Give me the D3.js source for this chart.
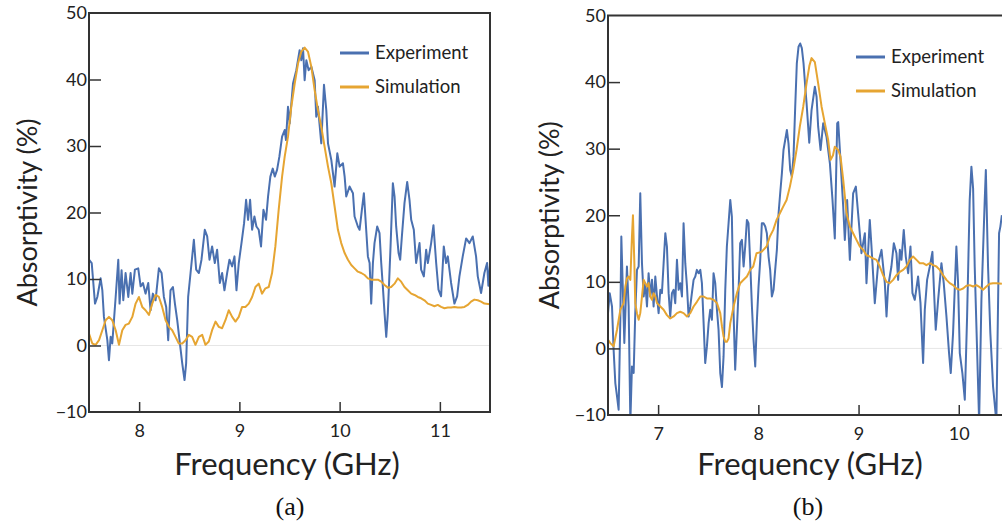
<!DOCTYPE html>
<html>
<head>
<meta charset="utf-8">
<script src="https://cdn.jsdelivr.net/npm/d3@7"></script>
<style>
  body { margin: 0; background: #fff; }
  svg { display: block; overflow: hidden; }
  .tick text { font-family: Lato, "Open Sans", sans-serif; fill: #222; }
</style>
</head>
<body>
<div id="chart"></div>
<script>
// ---- data: [frequency GHz, absorptivity %] ----
const expA = [
  [7.50,12.9],[7.527,12.4],[7.56,6.3],[7.583,7.3],[7.616,10.1],[7.633,8.3],[7.649,4.3],[7.683,0.8],
  [7.699,-2.2],[7.716,1.3],[7.732,0.3],[7.749,3.8],[7.766,7.3],[7.792,12.9],[7.805,6.3],[7.825,11.3],
  [7.842,6.8],[7.865,10.9],[7.892,7.3],[7.915,10.9],[7.932,7.8],[7.958,11.4],[7.991,11.6],[8.015,8.9],
  [8.038,9.4],[8.064,7.8],[8.091,9.4],[8.114,5.3],[8.137,7.8],[8.164,6.8],[8.197,11.6],[8.224,10.9],
  [8.247,7.3],[8.27,5.8],[8.29,0.8],[8.313,8.3],[8.337,8.8],[8.357,6.3],[8.38,3.8],[8.403,0.8],
  [8.43,-2.7],[8.453,-5.2],[8.469,-2.7],[8.489,7.3],[8.513,10.9],[8.546,15.9],[8.569,11.4],[8.596,10.9],
  [8.622,12.9],[8.655,17.4],[8.679,16.4],[8.702,12.9],[8.728,14.9],[8.755,12.4],[8.778,14.4],[8.805,9.4],
  [8.828,10.9],[8.851,8.3],[8.878,10.9],[8.901,12.9],[8.928,11.9],[8.951,13.4],[8.971,8.3],[8.994,12.4],
  [9.021,15.4],[9.047,18.4],[9.067,21.9],[9.087,18.9],[9.107,21.9],[9.127,17.4],[9.15,19.4],[9.17,17.9],
  [9.193,17.4],[9.216,14.9],[9.24,20.4],[9.266,18.9],[9.286,22.4],[9.309,25.4],[9.333,26.6],[9.353,25.4],
  [9.376,26.4],[9.399,28.4],[9.426,31.4],[9.452,32.4],[9.465,30.9],[9.485,35.9],[9.502,33.4],[9.535,39.4],
  [9.568,41.4],[9.601,44.4],[9.618,42.9],[9.635,44.7],[9.651,39.9],[9.668,42.9],[9.691,41.4],[9.718,41.9],
  [9.751,39.9],[9.767,34.4],[9.784,35.9],[9.817,30.4],[9.844,39.2],[9.867,35.4],[9.884,30.4],[9.917,27.9],
  [9.95,23.9],[9.977,28.9],[10.0,26.9],[10.033,27.4],[10.05,25.4],[10.066,22.4],[10.099,23.9],[10.133,22.9],
  [10.149,19.4],[10.182,17.9],[10.199,17.4],[10.222,20.4],[10.242,22.9],[10.265,17.4],[10.282,13.4],[10.299,12.4],
  [10.315,6.3],[10.332,12.4],[10.348,15.4],[10.375,17.9],[10.398,16.9],[10.415,12.4],[10.431,8.9],[10.448,4.9],
  [10.465,1.3],[10.481,4.9],[10.508,14.9],[10.531,24.4],[10.548,22.4],[10.564,17.9],[10.588,13.9],[10.604,12.9],
  [10.621,16.4],[10.647,21.4],[10.674,24.6],[10.697,21.9],[10.714,18.9],[10.74,17.4],[10.763,12.4],[10.797,15.4],
  [10.813,11.4],[10.84,10.4],[10.863,14.4],[10.88,12.4],[10.913,15.4],[10.936,18.1],[10.963,12.4],[10.986,8.4],
  [11.012,7.4],[11.039,14.9],[11.062,12.4],[11.079,13.4],[11.112,9.4],[11.145,6.3],[11.172,7.4],[11.195,10.4],
  [11.228,13.4],[11.262,16.1],[11.295,15.4],[11.328,16.4],[11.361,13.4],[11.378,10.4],[11.411,7.9],[11.444,10.9],
  [11.471,12.4],[11.484,9.0],[11.5,12.0]
];
const simA = [
  [7.50,1.8],[7.533,0.3],[7.566,0.1],[7.60,0.8],[7.633,2.3],[7.666,3.8],[7.699,4.3],[7.732,3.8],
  [7.766,2.3],[7.799,0.1],[7.832,2.3],[7.865,3.1],[7.898,3.3],[7.932,4.3],[7.965,6.3],[7.998,7.3],
  [8.031,5.8],[8.064,5.3],[8.098,4.6],[8.131,6.3],[8.164,7.6],[8.197,7.3],[8.23,5.8],[8.264,3.8],
  [8.297,2.8],[8.33,2.3],[8.363,1.3],[8.396,0.3],[8.43,0.3],[8.463,0.8],[8.496,1.6],[8.529,1.3],
  [8.562,0.1],[8.596,1.3],[8.629,1.6],[8.662,0.1],[8.695,0.6],[8.728,2.3],[8.762,3.6],[8.795,2.8],
  [8.828,2.6],[8.861,3.8],[8.894,5.3],[8.928,4.3],[8.961,3.6],[8.994,4.3],[9.027,5.8],[9.06,5.8],
  [9.094,6.3],[9.127,7.3],[9.16,8.8],[9.193,9.3],[9.226,7.8],[9.26,8.6],[9.293,8.8],[9.326,10.9],
  [9.359,14.9],[9.392,20.4],[9.426,25.4],[9.452,28.4],[9.485,31.4],[9.518,35.9],[9.552,39.4],[9.585,42.4],
  [9.618,44.2],[9.651,44.8],[9.684,44.2],[9.718,41.9],[9.751,38.4],[9.784,35.4],[9.817,32.9],[9.85,29.9],
  [9.884,26.9],[9.917,24.4],[9.95,20.9],[9.983,17.4],[10.016,15.4],[10.05,13.9],[10.083,12.9],[10.116,12.1],
  [10.149,11.6],[10.182,11.1],[10.216,10.9],[10.249,10.6],[10.282,10.1],[10.315,9.9],[10.348,9.9],[10.382,9.9],
  [10.415,9.6],[10.448,9.1],[10.481,8.7],[10.514,8.8],[10.548,9.3],[10.581,10.1],[10.614,9.6],[10.647,8.8],
  [10.68,8.3],[10.714,7.8],[10.747,7.6],[10.78,7.3],[10.813,7.1],[10.846,6.8],[10.88,6.3],[10.913,6.1],
  [10.946,5.9],[10.979,6.1],[11.012,5.8],[11.046,5.6],[11.079,5.7],[11.112,5.7],[11.145,5.8],[11.178,5.7],
  [11.212,5.7],[11.245,5.8],[11.278,6.1],[11.311,6.6],[11.344,6.9],[11.378,6.8],[11.411,6.6],[11.444,6.3],
  [11.5,6.2]
];
const expB = [
  [6.50,5.3],[6.517,8.3],[6.54,6.3],[6.556,-0.2],[6.573,-5.2],[6.59,-7.2],[6.606,-9.2],[6.623,4.3],
  [6.633,16.8],[6.65,7.8],[6.663,0.8],[6.673,5.3],[6.689,12.3],[6.706,6.3],[6.723,-11.0],[6.739,-2.7],
  [6.756,-3.7],[6.772,5.3],[6.789,11.8],[6.806,12.3],[6.822,23.3],[6.839,12.8],[6.856,7.8],[6.872,9.8],
  [6.889,6.3],[6.905,11.3],[6.922,7.8],[6.939,10.3],[6.955,6.3],[6.972,10.8],[6.989,7.8],[7.005,5.3],
  [7.022,8.8],[7.038,8.3],[7.055,12.8],[7.072,17.3],[7.088,15.3],[7.105,8.3],[7.121,4.8],[7.138,8.3],
  [7.155,8.8],[7.171,6.8],[7.188,13.3],[7.205,8.8],[7.221,9.8],[7.238,7.8],[7.254,18.8],[7.271,12.8],
  [7.288,9.3],[7.304,4.8],[7.321,6.3],[7.337,8.3],[7.354,10.3],[7.371,10.8],[7.387,11.8],[7.404,11.3],
  [7.421,11.8],[7.437,9.8],[7.454,3.8],[7.47,-2.2],[7.487,0.3],[7.504,3.8],[7.52,5.8],[7.537,4.3],
  [7.553,11.3],[7.57,9.8],[7.587,5.8],[7.603,2.8],[7.62,-3.7],[7.637,-5.8],[7.653,-1.2],[7.67,8.8],
  [7.686,15.3],[7.703,18.8],[7.72,22.3],[7.736,19.8],[7.753,5.3],[7.769,-3.2],[7.786,2.8],[7.803,8.8],
  [7.819,15.8],[7.836,16.3],[7.853,12.3],[7.869,15.3],[7.886,19.3],[7.902,18.8],[7.919,12.8],[7.936,6.3],
  [7.952,1.3],[7.969,-2.7],[7.986,4.3],[8.002,9.3],[8.019,13.3],[8.035,18.8],[8.052,18.8],[8.069,18.3],
  [8.085,17.3],[8.102,13.8],[8.118,11.8],[8.135,7.8],[8.152,8.8],[8.168,11.8],[8.185,14.8],[8.202,20.3],
  [8.218,23.3],[8.235,26.3],[8.251,29.8],[8.268,31.3],[8.285,32.8],[8.301,30.8],[8.318,26.8],[8.334,25.8],
  [8.351,28.8],[8.368,36.3],[8.384,42.8],[8.401,45.3],[8.418,45.8],[8.434,45.1],[8.451,42.8],[8.468,39.3],
  [8.481,36.9],[8.508,30.9],[8.531,35.8],[8.564,39.3],[8.581,37.8],[8.597,33.3],[8.621,29.8],[8.647,33.8],
  [8.68,31.8],[8.714,27.8],[8.74,22.3],[8.763,16.5],[8.787,33.8],[8.797,34.0],[8.847,21.3],[8.863,16.3],
  [8.886,22.3],[8.913,13.3],[8.946,23.3],[8.973,24.3],[9.029,14.3],[9.063,17.3],[9.079,9.8],[9.112,19.3],
  [9.129,15.3],[9.162,6.8],[9.196,12.8],[9.229,14.8],[9.262,9.8],[9.279,4.8],[9.295,9.3],[9.328,12.3],
  [9.352,15.8],[9.378,14.3],[9.395,10.3],[9.412,14.8],[9.428,13.3],[9.451,17.8],[9.471,13.8],[9.495,11.3],
  [9.518,15.3],[9.538,8.3],[9.561,7.3],[9.594,10.8],[9.618,6.8],[9.644,-2.2],[9.661,5.8],[9.684,10.3],
  [9.711,12.3],[9.737,14.5],[9.751,9.3],[9.77,2.8],[9.794,7.3],[9.827,12.8],[9.85,9.8],[9.877,4.8],
  [9.903,-0.7],[9.92,-3.7],[9.943,2.3],[9.976,15.3],[9.993,9.8],[10.01,-0.7],[10.036,-3.7],[10.06,-7.7],
  [10.083,4.8],[10.109,22.3],[10.126,27.3],[10.143,24.0],[10.159,12.3],[10.203,-11.0],[10.226,7.3],[10.259,22.3],
  [10.27,26.8],[10.292,12.3],[10.315,2.3],[10.342,-5.7],[10.375,-11.0],[10.402,17.3],[10.415,18.3],[10.43,20.0]
];
const simB = [
  [6.50,1.3],[6.523,0.8],[6.556,0.3],[6.59,2.8],[6.623,5.8],[6.656,6.8],[6.673,9.3],[6.689,10.5],
  [6.706,10.8],[6.723,10.3],[6.739,16.8],[6.749,20.0],[6.763,12.8],[6.772,6.8],[6.789,5.3],[6.806,4.3],
  [6.822,5.3],[6.839,7.8],[6.856,10.3],[6.872,9.8],[6.889,9.3],[6.905,9.8],[6.922,7.8],[6.939,7.3],
  [6.955,8.3],[6.972,7.8],[6.989,6.8],[7.022,6.3],[7.055,5.8],[7.088,5.0],[7.121,4.5],[7.155,4.8],
  [7.188,5.3],[7.221,5.5],[7.254,5.3],[7.288,4.8],[7.321,5.3],[7.354,6.3],[7.387,7.0],[7.421,7.8],
  [7.454,7.8],[7.487,7.5],[7.52,7.5],[7.553,7.3],[7.587,6.8],[7.62,5.3],[7.637,3.3],[7.653,1.8],
  [7.67,1.0],[7.686,1.0],[7.703,1.5],[7.72,3.8],[7.753,6.3],[7.786,8.3],[7.819,9.8],[7.853,10.3],
  [7.886,10.8],[7.919,11.8],[7.949,12.3],[7.982,14.3],[8.032,14.5],[8.082,15.3],[8.115,16.8],[8.149,17.8],
  [8.182,19.3],[8.215,20.3],[8.248,21.3],[8.282,22.3],[8.315,24.3],[8.348,26.8],[8.381,29.8],[8.414,33.3],
  [8.448,36.3],[8.481,39.8],[8.51,42.5],[8.531,43.6],[8.564,43.0],[8.597,39.8],[8.631,36.3],[8.664,33.8],
  [8.697,31.3],[8.72,28.3],[8.745,29.0],[8.763,30.3],[8.797,29.8],[8.82,28.8],[8.847,25.3],[8.88,20.3],
  [8.913,18.3],[8.946,17.3],[8.979,16.3],[9.013,15.3],[9.046,14.8],[9.079,14.0],[9.112,13.8],[9.146,13.5],
  [9.179,13.3],[9.212,12.3],[9.245,11.0],[9.279,10.0],[9.312,9.8],[9.345,10.3],[9.378,11.0],[9.412,11.5],
  [9.445,11.8],[9.478,12.3],[9.511,13.3],[9.544,13.8],[9.578,13.3],[9.611,12.8],[9.644,12.8],[9.677,12.5],
  [9.711,12.8],[9.744,12.5],[9.777,12.3],[9.81,11.8],[9.843,11.0],[9.877,10.3],[9.91,9.8],[9.943,9.5],
  [9.976,9.0],[10.01,8.8],[10.043,9.0],[10.076,9.4],[10.109,9.5],[10.143,9.3],[10.176,9.5],[10.209,9.2],
  [10.242,8.8],[10.276,9.3],[10.309,9.7],[10.342,9.8],[10.375,9.8],[10.43,9.7]
];
const yTicks = [-10, 0, 10, 20, 30, 40, 50];
const xTicksA = [8, 9, 10, 11];
const xTicksB = [7, 8, 9, 10];
const seriesNames = ["Experiment", "Simulation"];
const colors = ["#4a70b0", "#e6a532"];

const W = 1002, H = 522;
const svg = d3.select("#chart").append("svg").attr("width", W).attr("height", H);
const sans = "Lato, 'Open Sans', sans-serif";

function drawPanel(cfg) {
  const x = d3.scaleLinear().domain(cfg.xDomain).range([cfg.left, cfg.left + cfg.width]);
  const y = d3.scaleLinear().domain([-10, 50]).range([cfg.top + cfg.height, cfg.top]);
  const g = svg.append("g");

  // clip lines to plot area
  g.append("clipPath").attr("id", cfg.id + "-clip")
    .append("rect")
    .attr("x", cfg.left).attr("y", cfg.top)
    .attr("width", cfg.width).attr("height", cfg.height);

  // light zero line
  g.append("line")
    .attr("x1", cfg.left).attr("x2", cfg.left + cfg.width)
    .attr("y1", y(0)).attr("y2", y(0))
    .attr("stroke", "#e6e6e6").attr("stroke-width", 1);

  const line = d3.line().x(d => x(d[0])).y(d => y(d[1]));
  const lines = g.append("g").attr("clip-path", `url(#${cfg.id}-clip)`);
  lines.append("path").datum(cfg.exp)
    .attr("fill", "none").attr("stroke", colors[0]).attr("stroke-width", 2)
    .attr("stroke-linejoin", "round").attr("d", line);
  lines.append("path").datum(cfg.sim)
    .attr("fill", "none").attr("stroke", colors[1]).attr("stroke-width", 2)
    .attr("stroke-linejoin", "round").attr("d", line);

  // frame
  g.append("rect")
    .attr("x", cfg.left).attr("y", cfg.top)
    .attr("width", cfg.width).attr("height", cfg.height)
    .attr("fill", "none").attr("stroke", "#333").attr("stroke-width", 2);

  // y axis (ticks point inward)
  const yAxis = g.append("g")
    .attr("transform", `translate(${cfg.left},0)`)
    .call(d3.axisRight(y).tickValues(yTicks).tickSize(12));
  yAxis.select(".domain").remove();
  yAxis.selectAll(".tick line").attr("stroke", "#333").attr("stroke-width", 1.5);
  yAxis.selectAll(".tick text")
    .attr("x", -2).attr("text-anchor", "end")
    .style("font-size", "18px")
    .text(d => d < 0 ? "\u2212" + Math.abs(d) : d);
  yAxis.selectAll(".tick").filter(d => d === 50 || d === -10).select("line").remove();

  // x axis (ticks point inward)
  const xAxis = g.append("g")
    .attr("transform", `translate(0,${cfg.top + cfg.height})`)
    .call(d3.axisTop(x).tickValues(cfg.xTicks).tickSize(10).tickFormat(d3.format("d")));
  xAxis.select(".domain").remove();
  xAxis.selectAll(".tick line").attr("stroke", "#333").attr("stroke-width", 1.5);
  xAxis.selectAll(".tick text")
    .attr("y", 25).style("font-size", "18px");

  // axis titles
  svg.append("text")
    .attr("transform", `translate(${cfg.yLabelX},${cfg.top + cfg.height / 2}) rotate(-90)`)
    .attr("text-anchor", "middle")
    .style("font-family", sans).style("font-size", "27px").attr("fill", "#222")
    .text("Absorptivity (%)");
  svg.append("text")
    .attr("x", cfg.xLabelX).attr("y", 475)
    .attr("text-anchor", "middle")
    .style("font-family", sans).style("font-size", "31px").attr("fill", "#222")
    .text("Frequency (GHz)");
  svg.append("text")
    .attr("x", cfg.capX).attr("y", 515)
    .attr("text-anchor", "middle")
    .style("font-family", "'Liberation Serif', 'DejaVu Serif', serif").style("font-size", "26px").attr("fill", "#111")
    .text(cfg.caption);

  // legend
  seriesNames.forEach((name, i) => {
    const ly = cfg.legendY + i * 34;
    svg.append("line")
      .attr("x1", cfg.legendX).attr("x2", cfg.legendX + 29)
      .attr("y1", ly).attr("y2", ly)
      .attr("stroke", colors[i]).attr("stroke-width", 3);
    svg.append("text")
      .attr("x", cfg.legendX + 35).attr("y", ly + 6)
      .style("font-family", sans).style("font-size", "18.5px").attr("fill", "#222")
      .text(name);
  });
}

drawPanel({
  id: "a", left: 89, top: 13, width: 401, height: 399,
  xDomain: [7.5, 11.5], xTicks: xTicksA, exp: expA, sim: simA,
  yLabelX: 37, xLabelX: 287, capX: 290, caption: "(a)",
  legendX: 340, legendY: 53
});
drawPanel({
  id: "b", left: 608, top: 15.5, width: 451, height: 399.5,
  xDomain: [6.5, 11], xTicks: xTicksB, exp: expB, sim: simB,
  yLabelX: 559, xLabelX: 810, capX: 808, caption: "(b)",
  legendX: 856, legendY: 57
});
</script>
</body>
</html>
